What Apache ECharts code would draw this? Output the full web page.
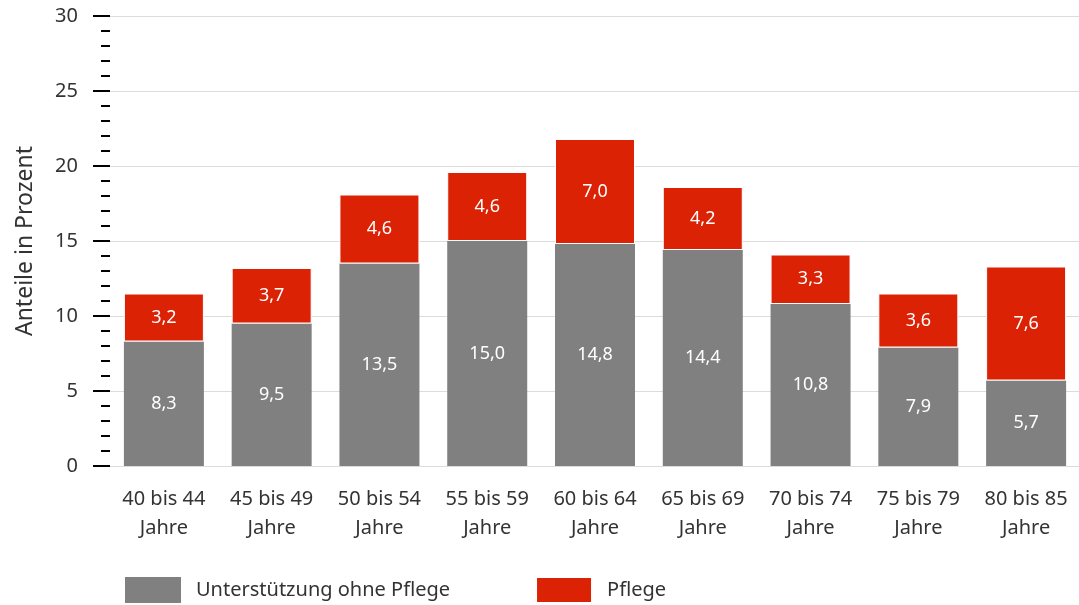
<!DOCTYPE html>
<html lang="de">
<head>
    <meta charset="utf-8">
    <title>Anteile in Prozent</title>
    <script src="https://cdn.jsdelivr.net/npm/echarts@6/dist/echarts.min.js"></script>
</head>
<body style="margin:0;">
    <div id="main" style="width:1079px;height:605px;"></div>

    <script>
    // Daten
    var categories = ['40 bis 44\nJahre', '45 bis 49\nJahre', '50 bis 54\nJahre', '55 bis 59\nJahre',
        '60 bis 64\nJahre', '65 bis 69\nJahre', '70 bis 74\nJahre', '75 bis 79\nJahre', '80 bis 85\nJahre'];
    var unterstuetzung = [8.3, 9.5, 13.5, 15.0, 14.8, 14.4, 10.8, 7.9, 5.7];
    var pflege = [3.2, 3.7, 4.6, 4.6, 7.0, 4.2, 3.3, 3.6, 7.6];

    var font = 'Noto Sans';
    function komma(p) { return p.value.toFixed(1).replace('.', ','); }

    var myChart = echarts.init(document.getElementById('main'));
    myChart.setOption({
        animation: false,
        textStyle: {fontFamily: font},
        grid: {left: 110, width: 970, top: 16, bottom: 139, outerBoundsMode: 'none'},
        legend: {
            left: 125, bottom: 1, padding: 0, itemWidth: 56, itemHeight: 26, itemGap: 85,
            icon: 'rect',
            textStyle: {fontSize: 20, color: '#333', padding: [0, 0, 0, 10]},
            data: ['Unterstützung ohne Pflege', 'Pflege']
        },
        xAxis: {
            type: 'category',
            data: categories,
            axisLine: {show: false},
            axisTick: {show: false},
            axisLabel: {interval: 0, fontSize: 20, color: '#333', lineHeight: 29, margin: 19}
        },
        yAxis: {
            type: 'value', min: 0, max: 30, interval: 5,
            name: 'Anteile in Prozent', nameLocation: 'middle', nameGap: 73,
            nameTextStyle: {fontSize: 23, color: '#333'},
            axisLine: {show: false},
            axisTick: {show: true, length: 17, lineStyle: {color: '#000', width: 2}},
            minorTick: {show: true, splitNumber: 5, length: 9, lineStyle: {color: '#000', width: 2}},
            axisLabel: {fontSize: 20, color: '#333', margin: 32},
            splitLine: {lineStyle: {color: '#dcdcdc', width: 1}}
        },
        series: [
            {
                name: 'Unterstützung ohne Pflege', type: 'bar', stack: 'a', barWidth: 80,
                itemStyle: {color: '#808080'},
                label: {show: true, position: 'inside', color: '#fff', fontSize: 18, formatter: komma},
                data: unterstuetzung
            },
            {
                name: 'Pflege', type: 'bar', stack: 'a', barWidth: 80,
                itemStyle: {color: '#db2205', borderColor: '#fff', borderWidth: 1},
                label: {show: true, position: 'inside', color: '#fff', fontSize: 18, formatter: komma},
                data: pflege
            }
        ]
    });
    </script>
</body>
</html>
